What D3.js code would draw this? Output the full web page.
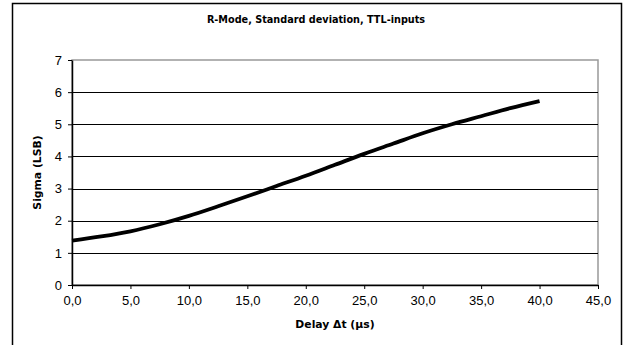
<!DOCTYPE html>
<html>
<head>
<meta charset="utf-8">
<script src="https://cdn.jsdelivr.net/npm/d3@7"></script>
<style>
  body { margin: 0; background: #fff; }
  svg { display: block; }
</style>
</head>
<body>
<div id="chart"></div>
<script>
var width = 628;
var height = 345;

// data
var delay = [0, 2.5, 5, 7.5, 10, 12.5, 15, 17.5, 20, 22.5, 25, 27.5, 30, 32.5, 35, 37.5, 40];
var sigma = [1.38, 1.51, 1.67, 1.89, 2.15, 2.45, 2.76, 3.08, 3.40, 3.74, 4.08, 4.40, 4.72, 5.00, 5.25, 5.50, 5.72];
var xTicks = [0, 5, 10, 15, 20, 25, 30, 35, 40, 45];
var yTicks = [0, 1, 2, 3, 4, 5, 6, 7];

var title = "R-Mode, Standard deviation, TTL-inputs";
var xTitle = "Delay \u0394t (\u00b5s)";
var yTitle = "Sigma (LSB)";

var margin = {left: 72, right: 30, top: 60, bottom: 60};

var svg = d3.select("#chart")
  .append("svg")
    .attr("width", width)
    .attr("height", height);

// outer frame, bottom edge runs off the picture
svg.append("rect")
    .attr("x", 12.5)
    .attr("y", 3.5)
    .attr("width", 609)
    .attr("height", 360)
    .attr("fill", "none")
    .attr("stroke", "#000")
    .attr("stroke-width", 1.5);

var x = d3.scaleLinear()
    .domain([0, 45])
    .range([margin.left, width - margin.right]);

var y = d3.scaleLinear()
    .domain([0, 7])
    .range([height - margin.bottom, margin.top]);

// plot area border (grey)
svg.append("rect")
    .attr("x", x(0))
    .attr("y", y(7))
    .attr("width", x(45) - x(0))
    .attr("height", y(0) - y(7))
    .attr("fill", "none")
    .attr("stroke", "#999")
    .attr("stroke-width", 1.5);

// horizontal gridlines
svg.append("g")
  .selectAll("line")
    .data(yTicks.filter(function(d) { return d > 0 && d < 7; }))
  .enter().append("line")
    .attr("x1", x(0))
    .attr("x2", x(45))
    .attr("y1", function(d) { return Math.round(y(d)) + 0.5; })
    .attr("y2", function(d) { return Math.round(y(d)) + 0.5; })
    .attr("stroke", "#000")
    .attr("stroke-width", 1);

// comma as decimal separator
var fmt = function(d) { return d3.format(".1f")(d).replace(".", ","); };

var xAxis = svg.append("g")
    .attr("transform", "translate(0," + y(0) + ")")
    .call(d3.axisBottom(x).tickValues(xTicks).tickFormat(fmt).tickSizeInner(4).tickSizeOuter(0).tickPadding(7));

var yAxis = svg.append("g")
    .attr("transform", "translate(" + x(0) + ",0)")
    .call(d3.axisLeft(y).tickValues(yTicks).tickFormat(d3.format("d")).tickSizeInner(4).tickSizeOuter(0).tickPadding(6));

[xAxis, yAxis].forEach(function(g) {
  g.attr("font-size", null).attr("font-family", null);
  g.select(".domain").attr("stroke", "#000").attr("stroke-width", 1.5);
  g.selectAll(".tick line").attr("stroke", "#000");
  g.selectAll(".tick text")
    .attr("fill", "#000")
    .style("font-family", "'Liberation Sans', Arial, sans-serif")
    .style("font-size", "13px");
});

// the curve
var line = d3.line()
    .x(function(d) { return x(d[0]); })
    .y(function(d) { return y(d[1]); })
    .curve(d3.curveMonotoneX);

svg.append("path")
    .datum(d3.zip(delay, sigma))
    .attr("d", line)
    .attr("fill", "none")
    .attr("stroke", "#000")
    .attr("stroke-width", 3.8);

// titles
var boldFont = "'DejaVu Sans', Verdana, sans-serif";

svg.append("text")
    .attr("x", 316)
    .attr("y", 23)
    .attr("text-anchor", "middle")
    .style("font-family", boldFont)
    .style("font-weight", "bold")
    .style("font-size", "9.7px")
    .text(title);

svg.append("text")
    .attr("x", (x(0) + x(45)) / 2)
    .attr("y", 328)
    .attr("text-anchor", "middle")
    .style("font-family", boldFont)
    .style("font-weight", "bold")
    .style("font-size", "10.8px")
    .text(xTitle);

svg.append("text")
    .attr("transform", "translate(41," + (y(0) + y(7)) / 2 + ") rotate(-90)")
    .attr("text-anchor", "middle")
    .style("font-family", boldFont)
    .style("font-weight", "bold")
    .style("font-size", "10.8px")
    .text(yTitle);
</script>
</body>
</html>
